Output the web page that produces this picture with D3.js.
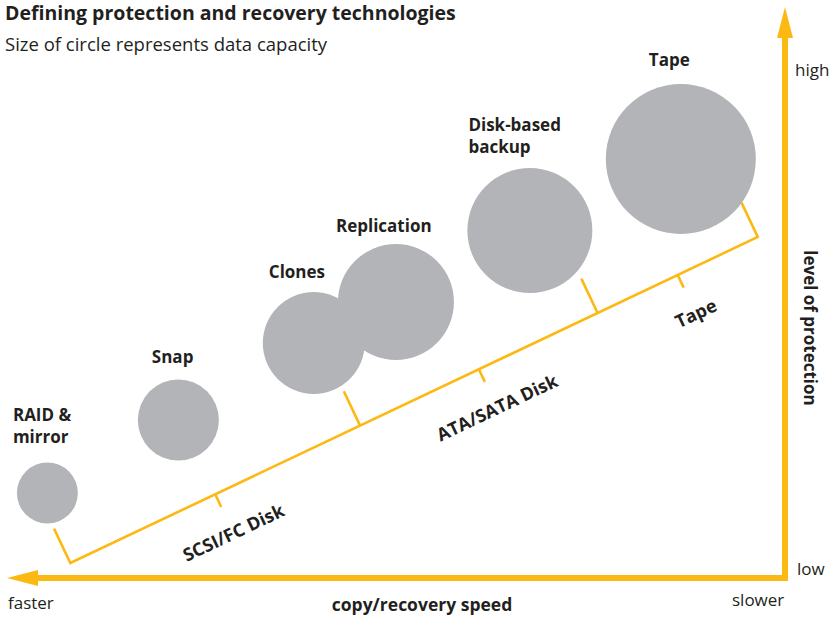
<!DOCTYPE html>
<html>
<head>
<meta charset="utf-8">
<script src="https://cdn.jsdelivr.net/npm/d3@7"></script>
<style>
  body { margin: 0; background: #fff; }
  text { font-family: "Open Sans", sans-serif; fill: #231f20; }
  .lbl { font-weight: bold; font-size: 17px; }
</style>
</head>
<body>
<svg id="chart" width="839" height="617"></svg>
<script>
var svg = d3.select("#chart"),
    width = +svg.attr("width"),
    height = +svg.attr("height");

// technologies: speed (0 fast .. 100 slow), protection (0 low .. 100 high), capacity
var techNames  = ["RAID &\nmirror", "Snap", "Clones", "Replication", "Disk-based\nbackup", "Tape"];
var techSpeed  = [3.7, 21.4, 39.7, 50.8, 68.9, 89.3];
var techProt   = [13.4, 28, 43.4, 51.6, 65.9, 80.2];
var techCap    = [16.5, 29.2, 46.2, 59.8, 69.4, 100];

// storage media along the bracket line (fraction of the line)
var mediaNames  = ["SCSI/FC Disk", "ATA/SATA Disk", "Tape"];
var mediaBreaks = [0, 0.4215, 0.767, 1];
var bracketFrom = [6.8, -0.6];   // speed, protection
var bracketTo   = [99.7, 64.6];

var axisLow = "low", axisHigh = "high", axisFast = "faster", axisSlow = "slower";

var yellow = "#fdb913", grey = "#b3b4b7";

var x = d3.scaleLinear().domain([0, 100]).range([20, 760]);
var y = d3.scaleLinear().domain([0, 100]).range([560, 60]);
var r = d3.scaleSqrt().domain([0, 100]).range([0, 75]);

// label nudges (px from circle's left edge / top)
var labDx = [-4, 14, 6, -2, 1, 43];
var labDy = [-20, -16, -14, -12, -15, -18];

var techs = techNames.map(function(n, i) {
  return {name: n, speed: techSpeed[i], prot: techProt[i], cap: techCap[i]};
});

// title
svg.append("text").attr("x", 5).attr("y", 20)
  .style("font-weight", "bold").style("font-size", "19.5px")
  .text("Defining protection and recovery technologies");
svg.append("text").attr("x", 5).attr("y", 51)
  .style("font-size", "18.5px")
  .text("Size of circle represents data capacity");

// circles
svg.append("g").selectAll("circle")
  .data(techs)
  .enter().append("circle")
  .attr("cx", function(d) { return x(d.speed); })
  .attr("cy", function(d) { return y(d.prot); })
  .attr("r", function(d) { return r(d.cap); })
  .attr("fill", grey);

// circle labels
var lab = svg.append("g").selectAll("text")
  .data(techs)
  .enter().append("text")
  .attr("class", "lbl")
  .attr("x", function(d, i) { return x(d.speed) - r(d.cap) + labDx[i]; })
  .attr("y", function(d, i) {
    var lines = d.name.split("\n").length;
    return y(d.prot) - r(d.cap) + labDy[i] - (lines - 1) * 22;
  });
lab.selectAll("tspan")
  .data(function(d) { return d.name.split("\n"); })
  .enter().append("tspan")
  .attr("x", function() { return d3.select(this.parentNode).attr("x"); })
  .attr("dy", function(d, i) { return i ? 22 : 0; })
  .text(function(d) { return d; });

// bracket line
var p0 = [x(bracketFrom[0]), y(bracketFrom[1])],
    p1 = [x(bracketTo[0]), y(bracketTo[1])];
var dx = p1[0] - p0[0], dy = p1[1] - p0[1], len = Math.sqrt(dx * dx + dy * dy);
var ux = dx / len, uy = dy / len;   // along line
var nx = -uy, ny = ux;              // perpendicular, pointing down-right
var angle = Math.atan2(dy, dx) * 180 / Math.PI;
function at(t) { return [p0[0] + dx * t, p0[1] + dy * t]; }

var br = svg.append("g").attr("stroke", yellow).attr("stroke-width", 2.6).attr("fill", "none");
var legLen = 38, tickLen = 14;
var s = at(0), e = at(1);
br.append("path")
  .attr("d", d3.line()([[s[0] - nx * legLen, s[1] - ny * legLen], s, e, [e[0] - nx * legLen, e[1] - ny * legLen]]));
mediaBreaks.slice(1, -1).forEach(function(t) {
  var p = at(t);
  br.append("line").attr("x1", p[0]).attr("y1", p[1])
    .attr("x2", p[0] - nx * legLen).attr("y2", p[1] - ny * legLen);
});
var media = mediaNames.map(function(n, i) { return {name: n, t: (mediaBreaks[i] + mediaBreaks[i + 1]) / 2}; });
br.selectAll("line.tick").data(media).enter().append("line").attr("class", "tick")
  .attr("x1", function(d) { return at(d.t)[0]; })
  .attr("y1", function(d) { return at(d.t)[1]; })
  .attr("x2", function(d) { return at(d.t)[0] + nx * tickLen; })
  .attr("y2", function(d) { return at(d.t)[1] + ny * tickLen; });
svg.append("g").selectAll("text").data(media).enter().append("text")
  .attr("class", "lbl")
  .style("font-size", "18px")
  .attr("text-anchor", "middle")
  .attr("dominant-baseline", "central")
  .attr("transform", function(d) {
    var p = at(d.t), off = 42;
    return "translate(" + (p[0] + nx * off) + "," + (p[1] + ny * off) + ") rotate(" + angle + ")";
  })
  .text(function(d) { return d.name; });

// axes
var ax = 785, ay = 578;
svg.append("path")
  .attr("d", d3.line()([[ax, 37], [ax, ay], [37, ay]]))
  .attr("stroke", yellow).attr("stroke-width", 6).attr("fill", "none");
svg.append("path").attr("d", "M" + ax + ",7L" + (ax + 8) + ",38L" + (ax - 8) + ",38Z").attr("fill", yellow);
svg.append("path").attr("d", "M7," + ay + "L38," + (ay - 8) + "L38," + (ay + 8) + "Z").attr("fill", yellow);

svg.append("text").attr("x", 795).attr("y", 76).style("font-size", "17px").text(axisHigh);
svg.append("text").attr("x", 797).attr("y", 575).style("font-size", "17px").text(axisLow);
svg.append("text").attr("x", 8).attr("y", 609).style("font-size", "17px").text(axisFast);
svg.append("text").attr("x", 732).attr("y", 606).style("font-size", "17px").text(axisSlow);
svg.append("text").attr("class", "lbl").attr("x", 422).attr("y", 611)
  .style("font-size", "17.5px")
  .attr("text-anchor", "middle").text("copy/recovery speed");
svg.append("text").attr("class", "lbl")
  .attr("transform", "translate(810,328) rotate(90)")
  .attr("text-anchor", "middle").attr("dominant-baseline", "central")
  .text("level of protection");
</script>
</body>
</html>
